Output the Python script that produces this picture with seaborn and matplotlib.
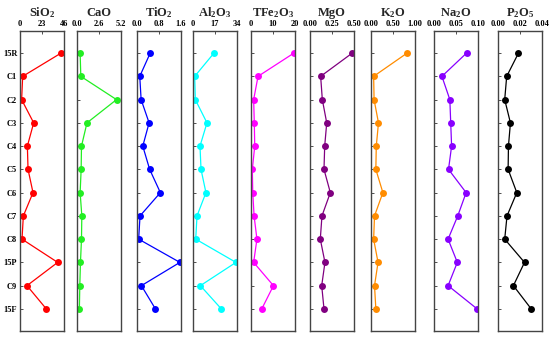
import matplotlib
matplotlib.use("Agg")
import matplotlib.pyplot as plt
import seaborn as sns
import numpy as np
import pandas as pd

samples = ["15R", "C1", "C2", "C3", "C4", "C5", "C6", "C7", "C8", "15P", "C9", "15F"]

sio2 = [42.9, 2.8, 1.7, 14.3, 7.7, 8.4, 13.6, 3.5, 2.1, 39.4, 7.3, 27.5]
cao = [0.37, 0.45, 4.67, 1.18, 0.53, 0.49, 0.37, 0.57, 0.53, 0.41, 0.33, 0.28]
tio2 = [0.48, 0.10, 0.15, 0.44, 0.21, 0.46, 0.85, 0.11, 0.06, 1.56, 0.16, 0.67]
al2o3 = [16.2, 1.3, 1.8, 10.8, 5.4, 6.2, 10.0, 3.1, 2.1, 33.2, 5.7, 21.9]
tfe2o3 = [19.5, 3.2, 1.2, 1.5, 1.7, 0.6, 0.8, 1.4, 2.7, 1.2, 10.2, 4.9]
mgo = [0.48, 0.121, 0.14, 0.19, 0.167, 0.159, 0.231, 0.136, 0.117, 0.17, 0.133, 0.159]
k2o = [0.82, 0.06, 0.07, 0.17, 0.12, 0.11, 0.27, 0.08, 0.06, 0.16, 0.08, 0.11]
na2o = [0.074, 0.018, 0.036, 0.038, 0.040, 0.033, 0.073, 0.054, 0.032, 0.053, 0.032, 0.098]
p2o5 = [0.0186, 0.0079, 0.0061, 0.0113, 0.0095, 0.0092, 0.0171, 0.0082, 0.0061, 0.0241, 0.014, 0.0302]

titles = ["SiO$_2$", "CaO", "TiO$_2$", "Al$_2$O$_3$", "TFe$_2$O$_3$", "MgO", "K$_2$O", "Na$_2$O", "P$_2$O$_5$"]
series = [sio2, cao, tio2, al2o3, tfe2o3, mgo, k2o, na2o, p2o5]
xticks = [[0, 23, 46], [0.0, 2.6, 5.2], [0.0, 0.8, 1.6], [0, 17, 34], [0, 10, 20],
          [0.00, 0.25, 0.50], [0.00, 0.50, 1.00], [0.00, 0.05, 0.10], [0.00, 0.02, 0.04]]
xticklabels = [["0", "23", "46"], ["0.0", "2.6", "5.2"], ["0.0", "0.8", "1.6"], ["0", "17", "34"],
               ["0", "10", "20"], ["0.00", "0.25", "0.50"], ["0.00", "0.50", "1.00"],
               ["0.00", "0.05", "0.10"], ["0.00", "0.02", "0.04"]]
colors = ["#ff0000", "#22ee22", "#0000ff", "#00ffff", "#ff00ff", "#800080", "#ff8c00", "#8800ff", "#000000"]

sns.set_theme(style="white")
plt.rcParams["font.family"] = ["Liberation Serif", "DejaVu Serif"]
plt.rcParams["mathtext.fontset"] = "custom"
plt.rcParams["mathtext.rm"] = "Liberation Serif:bold"
plt.rcParams["mathtext.it"] = "Liberation Serif:bold"
plt.rcParams["mathtext.bf"] = "Liberation Serif:bold"

fig = plt.figure(figsize=(5.5, 3.37), dpi=100)
lefts = [20, 77, 137, 193, 251, 310, 371, 434, 498]
W, H = 550.0, 337.0
top_px, bot_px = 31, 331
pw = 44

pos = list(range(len(samples)))
for i, (vals, title, xt, xtl, col) in enumerate(zip(series, titles, xticks, xticklabels, colors)):
    ax = fig.add_axes([lefts[i] / W, 1 - bot_px / H, pw / W, (bot_px - top_px) / H])
    df = pd.DataFrame({"v": vals, "p": pos})
    sns.lineplot(data=df, x="v", y="p", sort=False, estimator=None, color=col,
                 marker="o", markersize=5, markeredgewidth=0, linewidth=0.9, ax=ax)
    ax.set_xlim(xt[0], xt[-1])
    ax.set_ylim(11.95, -0.95)
    ax.set_xticks(xt)
    ax.set_xticklabels(xtl, fontsize=6, fontweight="bold")
    ax.xaxis.tick_top()
    ax.set_yticks(pos)
    if i == 0:
        ax.set_yticklabels(samples, fontsize=6, fontweight="bold")
    else:
        ax.set_yticklabels([])
    ax.tick_params(axis="both", direction="in", length=2.5, width=0.6, pad=2, colors="#333333",
                   labelcolor="black")
    ax.tick_params(axis="x", top=True, bottom=False)
    ax.tick_params(axis="y", left=True, right=False)
    ax.set_xlabel("")
    ax.set_ylabel("")
    ax.set_title(title, fontsize=9, fontweight="bold", pad=10.5)
    for s in ax.spines.values():
        s.set_color("#444444")
        s.set_linewidth(1.0)
    ax.grid(False)

fig.savefig("out.png", dpi=100)
